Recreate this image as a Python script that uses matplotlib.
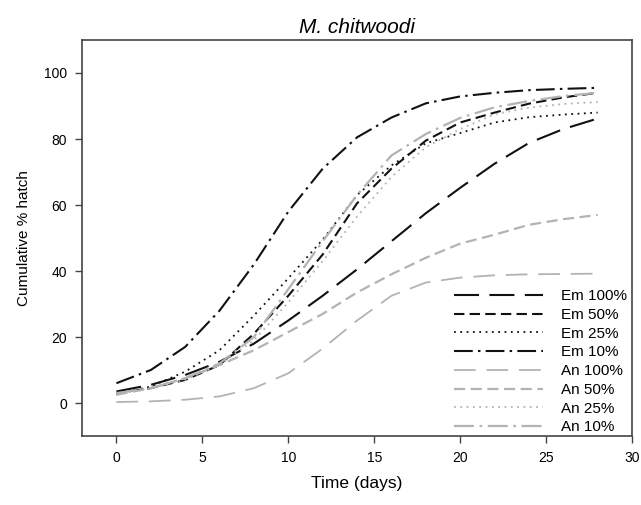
import numpy as np
import matplotlib.pyplot as plt

plt.rcParams['font.family'] = ['Liberation Sans', 'DejaVu Sans']

# time (days) and cumulative % hatch
days = [0, 2, 4, 6, 8, 10, 12, 14, 16, 18, 20, 22, 24, 26, 28]

em100 = [3.5, 5.5, 8.5, 12.5, 18, 25, 32.5, 40.5, 49, 57.5, 65.2, 72.5, 78.8, 83, 86.2]
em50 = [3, 4.5, 7, 11.5, 21, 32.5, 45, 60.5, 71, 79.5, 85, 88, 90.7, 92.6, 94]
em25 = [2.6, 5, 9.5, 16, 26.5, 37.8, 49.5, 63, 72, 78.7, 81.8, 85, 86.6, 87.4, 88]
em10 = [6, 10, 17, 28, 42, 58, 71, 80.5, 86.5, 90.8, 92.9, 94, 94.8, 95.2, 95.5]
an100 = [0.3, 0.5, 1, 2, 4.5, 9, 16.5, 25, 32.5, 36.5, 38, 38.7, 39, 39.1, 39.2]
an50 = [2.5, 4.5, 7.5, 11.5, 16, 21.5, 27, 33.5, 39, 44, 48.3, 51, 54, 55.7, 57]
an25 = [3, 4.5, 7, 11.5, 19, 30.5, 43, 56.5, 68.5, 77.5, 83, 87.5, 89.5, 90.6, 91.2]
an10 = [3, 4.5, 7.5, 12, 20, 34.5, 49, 63, 75, 81.5, 86.4, 89.6, 91.5, 93, 94]

labels = ['Em 100%', 'Em 50%', 'Em 25%', 'Em 10%',
          'An 100%', 'An 50%', 'An 25%', 'An 10%']

black = '#111111'
grey = '#b3b3b3'

fig = plt.figure(figsize=(6.41, 5.05), dpi=100)
ax = fig.add_axes([0.128, 0.1366, 0.858, 0.7842])

ax.plot(days, em100, color=black, lw=1.5, dashes=(12, 5), label=labels[0])
ax.plot(days, em50, color=black, lw=1.5, dashes=(5, 2.5), label=labels[1])
ax.plot(days, em25, color=black, lw=1.3, dashes=(1, 2.5), label=labels[2])
ax.plot(days, em10, color=black, lw=1.5, dashes=(9, 2.5, 1.2, 2.5), label=labels[3])
ax.plot(days, an100, color=grey, lw=1.3, dashes=(12, 6), label=labels[4])
ax.plot(days, an50, color=grey, lw=1.6, dashes=(5, 2.5), label=labels[5])
ax.plot(days, an25, color=grey, lw=1.3, dashes=(1, 2.5), label=labels[6])
ax.plot(days, an10, color=grey, lw=1.6, dashes=(9, 2.5, 1.2, 2.5), label=labels[7])

ax.set_xlim(-2, 30)
ax.set_ylim(-10, 110)
ax.set_xticks([0, 5, 10, 15, 20, 25, 30])
ax.set_yticks([0, 20, 40, 60, 80, 100])
ax.tick_params(direction='out', length=5, width=1, color='#444444',
               labelsize=10, pad=6)
for s in ax.spines.values():
    s.set_color('#444444')
    s.set_linewidth(1.2)

ax.set_xlabel('Time (days)', fontsize=12.5, labelpad=8)
ax.set_ylabel('Cumulative % hatch', fontsize=11, labelpad=9)
ax.set_title('M. chitwoodi', fontsize=15, style='italic', pad=5)

leg = ax.legend(loc='lower right', bbox_to_anchor=(0.991, 0.004),
                frameon=False, fontsize=11, handlelength=5.8,
                handletextpad=1.2, labelspacing=0.31,
                borderpad=0, borderaxespad=0)

fig.savefig('out.png', dpi=100)
